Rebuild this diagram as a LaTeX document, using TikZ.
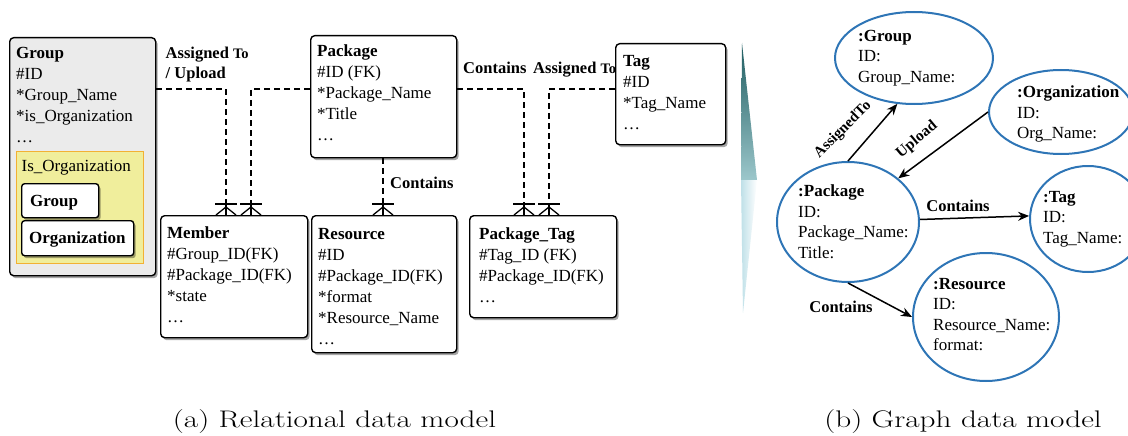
\documentclass[tikz,border=0pt]{standalone}
\usepackage{fontspec}
\newfontfamily\tnr{Liberation Serif}
\usetikzlibrary{shapes.geometric,shadows,arrows.meta,calc}
\definecolor{ellblue}{HTML}{2E75B6}
\definecolor{grpgray}{HTML}{EBEBEB}
\definecolor{isyellow}{HTML}{F0EE9C}
\definecolor{isorange}{HTML}{F2B134}
\definecolor{slivdark}{HTML}{1F5C60}
\definecolor{slivmid}{HTML}{9CC7CB}
\definecolor{slivlight}{HTML}{BFE0E8}
\newcommand\crowfoot[1]{%
  \draw[crowline] (#1) -- ++(0,-11);
  \draw[crowline] (#1) ++(-11,-11) -- ++(22,0);
  \draw[crowline] (#1) ++(-10,0) -- ++(10,-8) -- ++(10,8);}
\begin{document}
\begin{tikzpicture}[x=1pt,y=-1pt,
  erbox/.style={draw=black, line width=1.4pt, rounded corners=4pt, fill=white, inner sep=0pt, anchor=north west,
    drop shadow={shadow xshift=2pt, shadow yshift=-2.5pt, opacity=0.35, fill=black}},
  ertxt/.style={font=\tnr\fontsize{17}{21}\selectfont, align=left, inner sep=0pt, anchor=north west},
  gtxt/.style={font=\tnr\fontsize{17}{20.5}\selectfont, align=left, inner sep=0pt, anchor=north west},
  lbl/.style={font=\tnr\bfseries\fontsize{16.5}{20}\selectfont, align=left, inner sep=0pt},
  dashline/.style={draw=black, line width=1.3pt, dash pattern=on 6pt off 4pt},
  crowline/.style={draw=black, line width=1.3pt},
  gell/.style={ellipse, draw=ellblue, line width=2pt, inner sep=0pt},
  garrow/.style={draw=black, line width=1.5pt, -{Stealth[length=11pt,width=9pt]}},
  capt/.style={inner sep=0pt, anchor=base}]
\useasboundingbox (0,0) rectangle (1128,436);

% ---------------- relational model ----------------
\node[erbox, fill=grpgray, minimum width=146pt, minimum height=238pt] (group) at (9,37) {};
\node[ertxt] (groupt) at ([shift={(7,10)}]group.north west)
  {\textbf{Group}\\\#ID\\*Group\_Name\\*is\_Organization\\…};
\node[draw=isorange, fill=isyellow, line width=1.2pt, inner sep=0pt, anchor=north west,
  minimum width=127pt, minimum height=112pt] (isorg) at (16,151) {};
\node[ertxt] (isorgt) at ([shift={(5.5,9)}]isorg.north west) {Is\_Organization};
\node[erbox, minimum width=77pt, minimum height=34pt, rounded corners=3pt] (ginner) at (21,183) {};
\node[ertxt] (ginnert) at ([shift={(9,12)}]ginner.north west) {\textbf{Group}};
\node[erbox, minimum width=112pt, minimum height=35pt, rounded corners=3pt] (orgbox) at (21,220) {};
\node[ertxt] (orgboxt) at ([shift={(8,11.5)}]orgbox.north west) {\textbf{Organization}};

\node[erbox, minimum width=146pt, minimum height=122pt] (package) at (310,35) {};
\node[ertxt] (packaget) at ([shift={(7,10)}]package.north west)
  {\textbf{Package}\\\#ID (FK)\\*Package\_Name\\*Title\\…};
\node[erbox, minimum width=110pt, minimum height=101pt] (tag) at (615,43) {};
\node[ertxt] (tagt) at ([shift={(8,12)}]tag.north west)
  {\textbf{Tag}\\\#ID\\*Tag\_Name\\…};
\node[erbox, minimum width=147pt, minimum height=122pt] (member) at (160,215) {};
\node[ertxt] (membert) at ([shift={(7,12)}]member.north west)
  {\textbf{Member}\\\#Group\_ID(FK)\\\#Package\_ID(FK)\\*state\\…};
\node[erbox, minimum width=145pt, minimum height=137pt] (resource) at (311,215) {};
\node[ertxt] (resourcet) at ([shift={(7,13)}]resource.north west)
  {\textbf{Resource}\\\#ID\\\#Package\_ID(FK)\\*format\\*Resource\_Name\\…};
\node[erbox, minimum width=147pt, minimum height=102pt] (packtag) at (469,215) {};
\node[ertxt] (packtagt) at ([shift={(10,13)}]packtag.north west)
  {\textbf{Package\_Tag}\\\#Tag\_ID (FK)\\\#Package\_ID(FK)\\…};

\coordinate (ya) at (0,89);
\coordinate (m1) at ([xshift=66pt]member.north west);
\coordinate (m2) at ([xshift=91pt]member.north west);
\coordinate (r1) at ([xshift=72pt]resource.north west);
\coordinate (p1) at ([xshift=55pt]packtag.north west);
\coordinate (p2) at ([xshift=80pt]packtag.north west);
\draw[dashline] (group.east |- ya) -| (m1);
\draw[dashline] (package.west |- ya) -| (m2);
\draw[dashline] (r1 |- package.south) -- (r1);
\draw[dashline] (package.east |- ya) -| (p1);
\draw[dashline] (tag.west |- ya) -| (p2);
\crowfoot{m1}
\crowfoot{m2}
\crowfoot{r1}
\crowfoot{p1}
\crowfoot{p2}

\node[lbl, anchor=north west] (lassign1) at (165.5,46.5)
  {Assigned {\fontsize{14.5}{16}\selectfont To}\\/ Upload};
\node[lbl, anchor=north west] (lcont1) at (463,61.5) {Contains};
\node[lbl, anchor=north west] (lassign2) at (533,61.5) {Assigned {\fontsize{14.5}{16}\selectfont To}};
\node[lbl, anchor=north west] (lcont2) at (390,176.5) {Contains};

% ---------------- sliver ----------------
\shade[top color=slivdark, bottom color=slivmid] (742,43) -- (757,180) -- (741,180) -- cycle;
\shade[left color=slivlight, right color=white] (741,180) -- (757,180) -- (743,313) -- cycle;

% ---------------- graph model ----------------
\node[gell, minimum width=158pt, minimum height=92pt] (ggroup) at (914,58) {};
\node[gtxt] (ggroupt) at (858,30) {\textbf{:Group}\\ID:\\Group\_Name:};
\node[gell, minimum width=144pt, minimum height=84pt] (gorg) at (1061,112) {};
\node[gtxt] (gorgt) at (1017,86) {\textbf{:Organization}\\ID:\\Org\_Name:};
\node[gell, minimum width=142pt, minimum height=120pt] (gpackage) at (848,222) {};
\node[gtxt] (gpackaget) at (798,185) {\textbf{:Package}\\ID:\\Package\_Name:\\Title:};
\node[gell, minimum width=116pt, minimum height=106pt] (gtag) at (1088,219) {};
\node[gtxt] (gtagt) at (1043,191) {\textbf{:Tag}\\ID:\\Tag\_Name:};
\node[gell, minimum width=146pt, minimum height=128pt] (gres) at (986,317) {};
\node[gtxt] (grest) at (933,278) {\textbf{:Resource}\\ID:\\Resource\_Name:\\format:};

\draw[garrow] (gpackage.90) -- (ggroup.250);
\draw[garrow] (gorg.180) -- (gpackage.41);
\draw[garrow] (gpackage.2) -- (gtag.177);
\draw[garrow] (gpackage.270) -- (gres.180);

\node[lbl, rotate=45, font=\tnr\bfseries\fontsize{15}{18}\selectfont] (eassign) at (843,130) {AssignedTo};
\node[lbl, rotate=40, font=\tnr\bfseries\fontsize{15.5}{18}\selectfont] (eupload) at (917,140) {Upload};
\node[lbl] (econt1) at (958,206) {Contains};
\node[lbl] (econt2) at (841,307) {Contains};

% ---------------- captions ----------------
\node[capt] (capa) at (334.5,427) {\scalebox{1.3}[1]{\fontsize{24}{27}\selectfont (a) Relational data model}};
\node[capt] (capb) at (963,427) {\scalebox{1.3}[1]{\fontsize{24}{27}\selectfont (b) Graph data model}};
\end{tikzpicture}
\end{document}
